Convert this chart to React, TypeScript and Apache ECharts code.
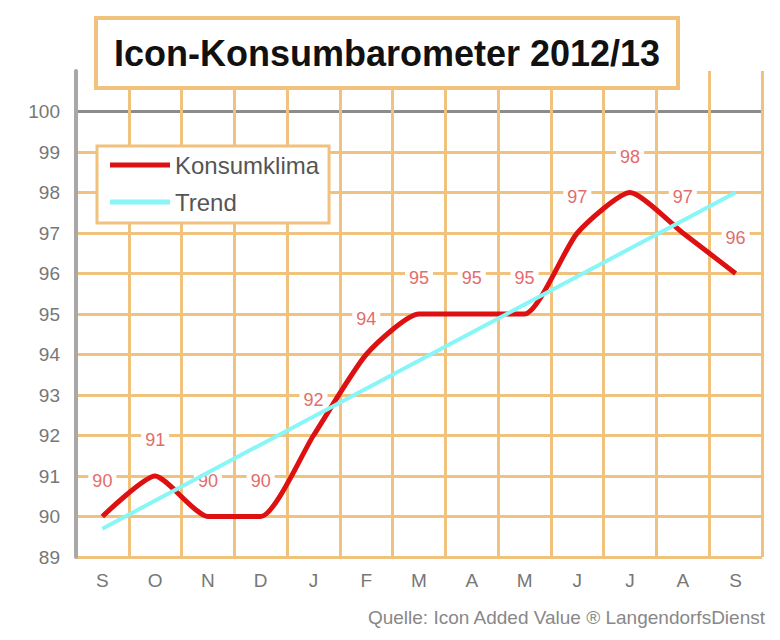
import React, { useEffect, useRef } from "react";
import * as echarts from "echarts";

const months = ["S", "O", "N", "D", "J", "F", "M", "A", "M", "J", "J", "A", "S"];
const konsumklima = [90, 91, 90, 90, 92, 94, 95, 95, 95, 97, 98, 97, 96];
const trendStart = 89.7;
const trendEnd = 98.0;
const titleText = "Icon-Konsumbarometer 2012/13";
const sourceText = "Quelle: Icon Added Value \u00AE LangendorfsDienst";

const ORANGE = "#f1c27d";

export default function App() {
  const ref = useRef<HTMLDivElement>(null);
  useEffect(() => {
    document.body.style.margin = "0";
    const chart = echarts.init(ref.current!, null, { renderer: "svg" });
    const splitColors: string[] = [];
    for (let v = 89; v <= 101; v++) {
      splitColors.push(v === 100 ? "#8c8c8c" : v === 101 ? "rgba(0,0,0,0)" : ORANGE);
    }
    chart.setOption({
      animation: false,
      backgroundColor: "#ffffff",
      textStyle: { fontFamily: "Liberation Sans, Arial, sans-serif" },
      grid: { left: 76, right: 18, top: 71, bottom: 83 },
      xAxis: {
        type: "category",
        data: months,
        boundaryGap: true,
        axisLine: { show: false },
        axisTick: { show: false },
        axisLabel: { color: "#777", fontSize: 19, margin: 14 },
        splitLine: { show: true, lineStyle: { color: ORANGE, width: 3 } },
      },
      yAxis: {
        type: "value",
        min: 89,
        max: 101,
        interval: 1,
        axisLine: { show: true, lineStyle: { color: "#a8a8a8", width: 4 } },
        axisTick: { show: false },
        axisLabel: {
          color: "#777",
          fontSize: 19,
          margin: 16,
          formatter: (v: number) => (v === 101 ? "" : String(v)),
        },
        splitLine: { show: true, lineStyle: { color: splitColors, width: 3 } },
      },
      legend: {
        orient: "vertical",
        left: 97,
        top: 146,
        backgroundColor: "#ffffff",
        borderColor: ORANGE,
        borderWidth: 3,
        borderRadius: 0,
        padding: [7, 10, 9, 13],
        itemGap: 13,
        itemWidth: 60,
        itemHeight: 5,
        icon: "rect",
        textStyle: { color: "#555", fontSize: 24 },
        data: ["Konsumklima", "Trend"],
      },
      series: [
        {
          name: "Konsumklima",
          type: "line",
          data: konsumklima,
          smooth: 0.2,
          symbol: "circle",
          symbolSize: 0,
          showSymbol: true,
          showAllSymbol: true,
          color: "#dd1111",
          lineStyle: { color: "#dd1111", width: 5 },
          label: {
            show: true,
            position: "top",
            distance: 25,
            color: "#e36c6c",
            fontSize: 18,
            backgroundColor: "#ffffff",
            padding: [2, 4],
          },
          z: 3,
        },
        {
          name: "Trend",
          type: "line",
          data: [
            [0, trendStart],
            [months.length - 1, trendEnd],
          ],
          symbol: "none",
          color: "#88f6f6",
          lineStyle: { color: "#88f6f6", width: 4 },
          z: 4,
        },
      ],
      graphic: [
        {
          type: "rect",
          z: 10,
          shape: { x: 96, y: 18, width: 582, height: 70 },
          style: { fill: "#ffffff", stroke: ORANGE, lineWidth: 4 },
        },
        {
          type: "text",
          z: 11,
          x: 387,
          y: 53,
          style: {
            text: titleText,
            fill: "#111",
            font: "bold 36px 'Liberation Sans', Arial, sans-serif",
            textAlign: "center",
            textVerticalAlign: "middle",
          },
        },
        {
          type: "text",
          z: 11,
          x: 765,
          y: 617,
          style: {
            text: sourceText,
            fill: "#888",
            font: "19px 'Liberation Sans', Arial, sans-serif",
            textAlign: "right",
            textVerticalAlign: "middle",
          },
        },
      ],
    });
    return () => chart.dispose();
  }, []);
  return <div ref={ref} style={{ width: 780, height: 640 }} />;
}
